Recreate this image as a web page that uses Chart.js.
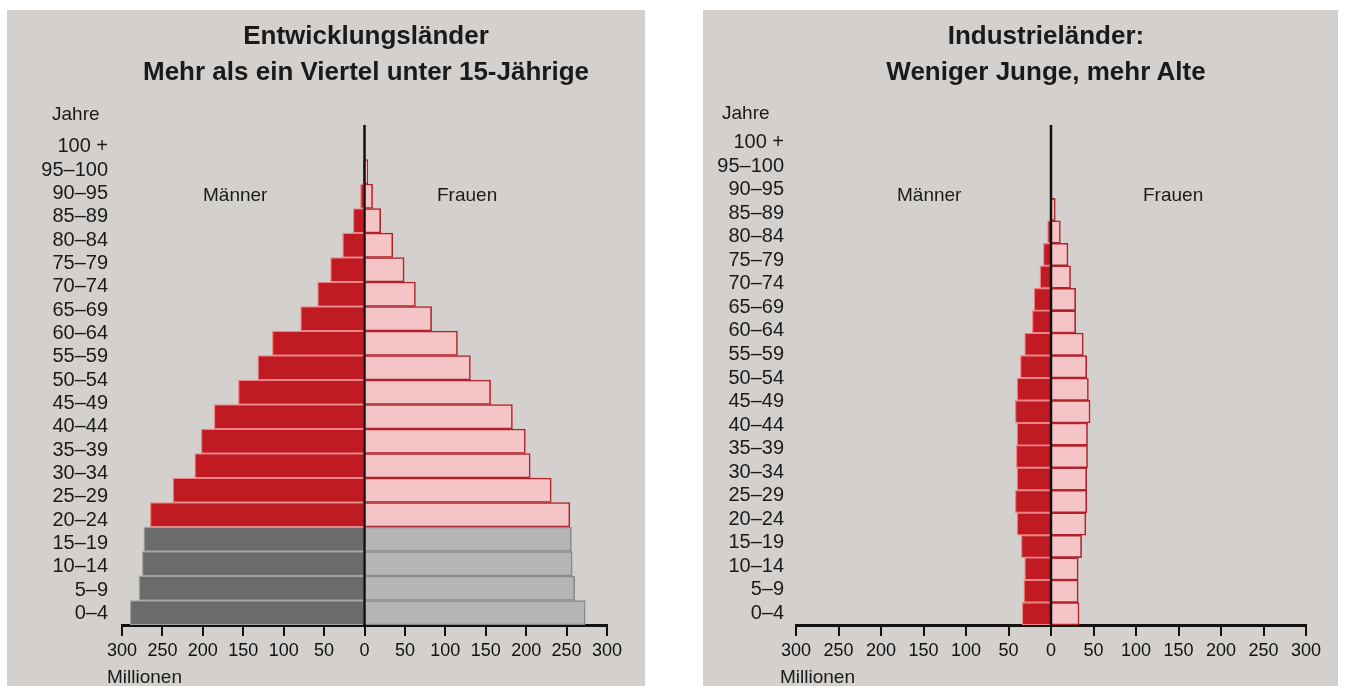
<!DOCTYPE html>
<html>
<head>
<meta charset="utf-8">
<script src="https://cdn.jsdelivr.net/npm/chart.js@4.4.1/dist/chart.umd.min.js"></script>
<style>
body { margin: 0; background: #fff; width: 1345px; height: 686px; overflow: hidden; position: relative;
  font-family: "Liberation Sans", Arial, sans-serif; color: #1a1a1a; }
.panel { position: absolute; top: 10px; height: 676px; background: #d3d0cd; }
.panel canvas { position: absolute; left: 0; top: 0; }
.txt { position: absolute; white-space: nowrap; font-size: 19px; line-height: 22px; }
.title { font-weight: bold; font-size: 26px; line-height: 36px; text-align: center; width: 600px; top: 7px; }
</style>
</head>
<body>
<div class="panel" style="left:7px;width:638px">
  <canvas id="dev" width="638" height="676"></canvas>
  <div class="txt title" style="left:59px">Entwicklungsländer<br>Mehr als ein Viertel unter 15-Jährige</div>
  <div class="txt" style="left:45px;top:93px">Jahre</div>
  <div class="txt" style="left:196px;top:174px">Männer</div>
  <div class="txt" style="left:430px;top:174px">Frauen</div>
  <div class="txt" style="left:100px;top:656px">Millionen</div>
</div>
<div class="panel" style="left:703px;width:635px">
  <canvas id="ind" width="635" height="676"></canvas>
  <div class="txt title" style="left:43px">Industrieländer:<br>Weniger Junge, mehr Alte</div>
  <div class="txt" style="left:19px;top:92px">Jahre</div>
  <div class="txt" style="left:194px;top:174px">Männer</div>
  <div class="txt" style="left:440px;top:174px">Frauen</div>
  <div class="txt" style="left:77px;top:656px">Millionen</div>
</div>
<script>
'use strict';

// tick labels on the age axis (top to bottom)
let ageLabels = ['100 +', '95–100', '90–95', '85–89', '80–84', '75–79', '70–74', '65–69', '60–64',
  '55–59', '50–54', '45–49', '40–44', '35–39', '30–34', '25–29', '20–24', '15–19', '10–14', '5–9', '0–4'];

// the 19 drawn bars (top to bottom)
let barGroups = ['90–94', '85–89', '80–84', '75–79', '70–74', '65–69', '60–64', '55–59', '50–54',
  '45–49', '40–44', '35–39', '30–34', '25–29', '20–24', '15–19', '10–14', '5–9', '0–4'];
let greyGroups = ['15–19', '10–14', '5–9', '0–4'];

// millions
let menDev = [1, 5, 14, 27, 42, 58, 79, 114, 132, 156, 186, 202, 210, 237, 265, 273, 275, 279, 290];
let womenDev = [4, 10, 20, 35, 49, 63, 83, 115, 131, 156, 183, 199, 205, 231, 254, 256, 257, 260, 273];
let menInd = [1, 4, 9, 13, 20, 22, 31, 36, 40, 42, 40, 41, 40, 42, 40, 35, 31, 32, 34];
let womenInd = [5, 11, 20, 23, 29, 29, 38, 42, 44, 46, 43, 43, 42, 42, 41, 36, 32, 32, 33];

let xMin = -300;
let xMax = 300;
let xStep = 50;

let tickFont = { family: 'Liberation Sans, Arial, sans-serif', size: 20 };
let xFont = { family: 'Liberation Sans, Arial, sans-serif', size: 18 };

let zeroLine = {
    id: 'zeroLine',
    afterDatasetsDraw(chart, args, opts) {
        let ctx = chart.ctx;
        let x = chart.scales.x.getPixelForValue(0);
        ctx.save();
        ctx.strokeStyle = '#111';
        ctx.lineWidth = 2.5;
        ctx.beginPath();
        ctx.moveTo(x, opts.top);
        ctx.lineTo(x, chart.chartArea.bottom);
        ctx.stroke();
        ctx.restore();
    }
};

function makePyramid(id, men, women, emptyRows, useGrey, box) {
    let rows = [];
    let menData = [];
    let womenData = [];
    for (let i = 0; i < emptyRows; i++) {
        rows.push('');
        menData.push(null);
        womenData.push(null);
    }
    for (let i = 0; i < barGroups.length; i++) {
        rows.push(barGroups[i]);
        menData.push(-men[i]);
        womenData.push(women[i]);
    }
    let isGrey = rows.map(r => useGrey && greyGroups.includes(r));

    new Chart(document.getElementById(id), {
        type: 'bar',
        data: {
            labels: rows,
            datasets: [
                {
                    label: 'Männer',
                    data: menData,
                    yAxisID: 'yb',
                    backgroundColor: isGrey.map(g => g ? '#6b6b6b' : '#c01b23'),
                    borderColor: isGrey.map(g => g ? '#a2a2a2' : '#ee8488'),
                    borderWidth: 1.3
                },
                {
                    label: 'Frauen',
                    data: womenData,
                    yAxisID: 'yb',
                    backgroundColor: isGrey.map(g => g ? '#b5b5b5' : '#f5c4c6'),
                    borderColor: isGrey.map(g => g ? '#8b8b8b' : '#b3232c'),
                    borderWidth: 1.6
                }
            ]
        },
        options: {
            indexAxis: 'y',
            responsive: false,
            animation: false,
            layout: { padding: { left: box.left, right: box.right, top: box.top, bottom: 21 } },
            datasets: { bar: { barPercentage: 1, categoryPercentage: 1 } },
            plugins: {
                legend: { display: false },
                tooltip: { enabled: false },
                zeroLine: { top: 115 }
            },
            scales: {
                x: {
                    type: 'linear',
                    min: xMin,
                    max: xMax,
                    stacked: true,
                    z: 1,
                    ticks: { stepSize: xStep, callback: v => Math.abs(v), font: xFont, color: '#111',
                        padding: 4, maxRotation: 0, autoSkip: false },
                    grid: { drawOnChartArea: false, color: '#111', lineWidth: 2, tickLength: 11 },
                    border: { color: '#111', width: 3 },
                    afterFit: s => { s.height = 40; }
                },
                y: {
                    type: 'category',
                    labels: ageLabels,
                    position: 'left',
                    offset: true,
                    grid: { display: false, drawTicks: false },
                    border: { display: false },
                    ticks: { font: tickFont, color: '#1a1a1a', padding: box.tickPad, autoSkip: false },
                    afterFit: s => { s.width = box.axisW; }
                },
                yb: {
                    type: 'category',
                    labels: rows,
                    display: false,
                    stacked: true,
                    offset: true
                }
            }
        },
        plugins: [zeroLine]
    });
}

makePyramid('dev', menDev, womenDev, 1, true, { left: 15, right: 38, top: 125, axisW: 100, tickPad: 14 });
makePyramid('ind', menInd, womenInd, 3, false, { left: 13, right: 32, top: 121, axisW: 80, tickPad: 12 });
</script>
</body>
</html>
